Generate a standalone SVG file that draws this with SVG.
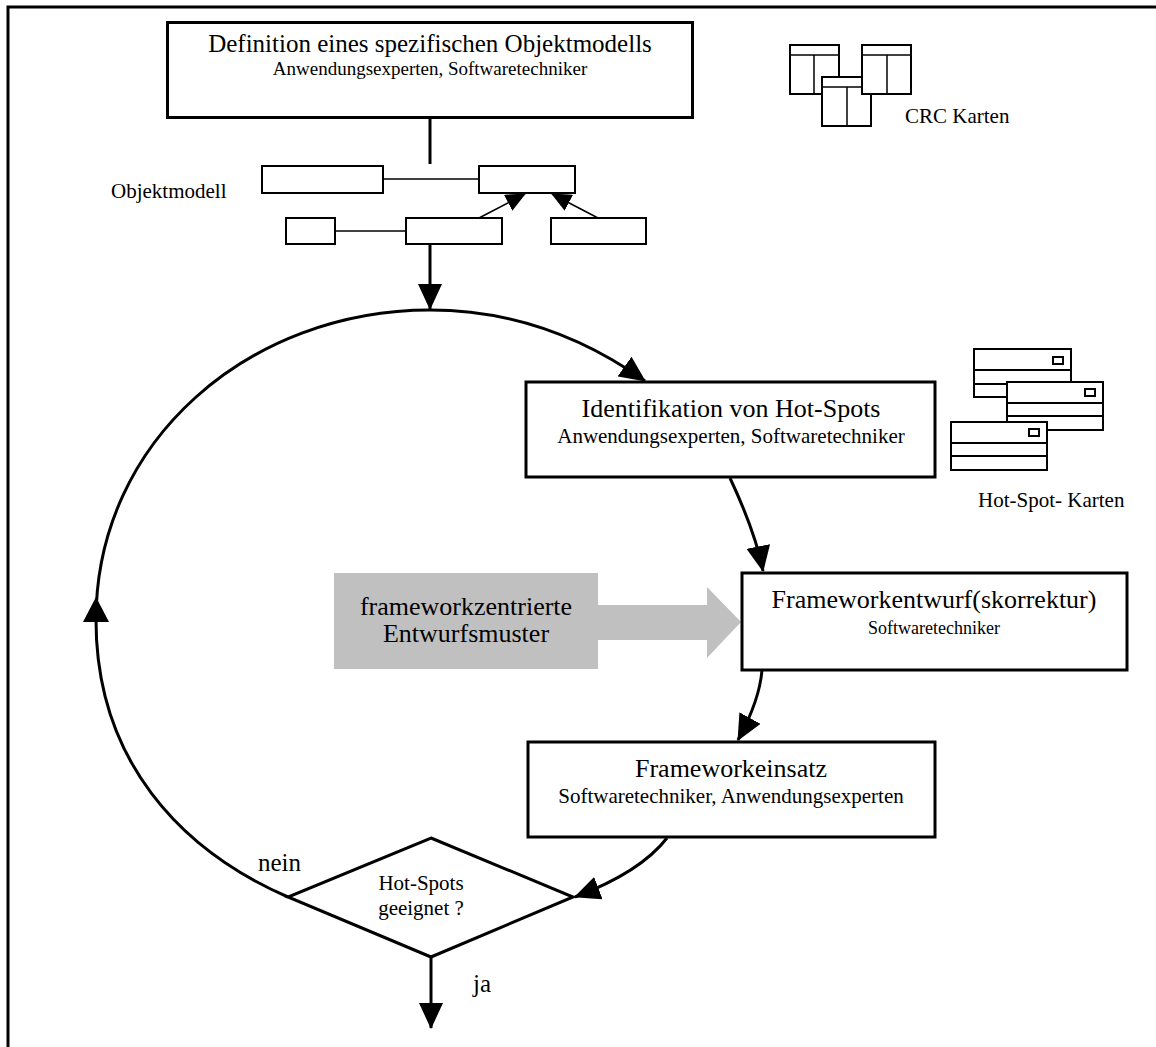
<svg xmlns="http://www.w3.org/2000/svg" width="1156" height="1047" viewBox="0 0 1156 1047">
  <style>
    text { font-family: "Liberation Serif", "Times New Roman", serif; fill: #000; }
    .box { fill: #fff; stroke: #000; stroke-width: 3; }
    .small { fill: #fff; stroke: #000; stroke-width: 2; }
    .thin { fill: none; stroke: #000; stroke-width: 1.5; }
    .flow { fill: none; stroke: #000; stroke-width: 3; }
    .title { font-size: 26px; text-anchor: middle; }
    .sub { font-size: 21px; text-anchor: middle; }
    .label { font-size: 21px; }
  </style>
  <defs>
    <marker id="head" markerUnits="userSpaceOnUse" markerWidth="26" markerHeight="24" viewBox="0 0 26 24" refX="25" refY="12" orient="auto">
      <path d="M0,0 L26,12 L0,24 z" fill="#000"/>
    </marker>
    <marker id="headSmall" markerUnits="userSpaceOnUse" markerWidth="20" markerHeight="18" viewBox="0 0 20 18" refX="19" refY="9" orient="auto">
      <path d="M0,0 L20,9 L0,18 z" fill="#000"/>
    </marker>
  </defs>

  <rect width="1156" height="1047" fill="#fff"/>
  <!-- page frame (open on right and bottom) -->
  <rect x="8" y="7" width="1170" height="1070" fill="none" stroke="#000" stroke-width="3"/>

  <!-- connectors -->
  <g id="connectors">
    <line class="flow" x1="430" y1="118" x2="430" y2="164"/>
    <line class="flow" x1="430" y1="244" x2="430" y2="309" marker-end="url(#head)"/>
    <!-- feedback loop from the decision back to hot-spot identification -->
    <path class="flow" d="M288 897 C180 850 96 760 96 620 C96 440 250 310 430 310 C510 310 580 335 645 381" marker-end="url(#head)"/>
    <polygon points="96,597 83,622 109,622" fill="#000"/>
    <path class="flow" d="M730 478 C745 510 757 540 763 571" marker-end="url(#head)"/>
    <path class="flow" d="M762 670 C760 695 750 718 738 740" marker-end="url(#head)"/>
    <path class="flow" d="M667 838 C650 860 620 880 575 897" marker-end="url(#head)"/>
    <line class="flow" x1="431" y1="957" x2="431" y2="1028" marker-end="url(#head)"/>
  </g>

  <!-- step 1 -->
  <g id="n-definition">
    <rect class="box" x="167.5" y="22.5" width="525" height="95"/>
    <text x="430" y="52" text-anchor="middle" font-size="25">Definition eines spezifischen Objektmodells</text>
    <text x="430" y="75" text-anchor="middle" font-size="19">Anwendungsexperten, Softwaretechniker</text>
  </g>

  <!-- CRC cards -->
  <g id="n-crc">
    <rect class="small" x="790" y="45" width="49" height="49"/>
    <line class="thin" x1="790" y1="55" x2="839" y2="55"/>
    <line class="thin" x1="814" y1="55" x2="814" y2="94"/>
    <rect class="small" x="822" y="77" width="49" height="49"/>
    <line class="thin" x1="822" y1="87" x2="871" y2="87"/>
    <line class="thin" x1="847" y1="87" x2="847" y2="126"/>
    <rect class="small" x="862" y="45" width="49" height="49"/>
    <line class="thin" x1="862" y1="55" x2="911" y2="55"/>
    <line class="thin" x1="887" y1="55" x2="887" y2="94"/>
    <text class="label" x="905" y="123">CRC Karten</text>
  </g>

  <!-- object model sketch -->
  <g id="n-objektmodell">
    <text class="label" x="111" y="198">Objektmodell</text>
    <line class="thin" x1="383" y1="179" x2="479" y2="179"/>
    <line class="thin" x1="335" y1="231" x2="406" y2="231"/>
    <rect class="small" x="262" y="166" width="121" height="27"/>
    <rect class="small" x="479" y="166" width="96" height="27"/>
    <rect class="small" x="286" y="218" width="49" height="26"/>
    <rect class="small" x="406" y="218" width="96" height="26"/>
    <rect class="small" x="551" y="218" width="95" height="26"/>
    <line class="thin" x1="479" y1="218" x2="525" y2="194" marker-end="url(#headSmall)"/>
    <line class="thin" x1="598" y1="218" x2="552" y2="194" marker-end="url(#headSmall)"/>
  </g>

  <!-- step 2 -->
  <g id="n-identifikation">
    <rect class="box" x="526" y="382" width="409" height="95"/>
    <text class="title" x="731" y="417">Identifikation von Hot-Spots</text>
    <text class="sub" x="731" y="443">Anwendungsexperten, Softwaretechniker</text>
  </g>

  <!-- hot-spot cards -->
  <g id="n-hotspot-karten">
    <rect class="small" x="974" y="349" width="97" height="48"/>
    <line class="small" x1="974" y1="370" x2="1071" y2="370"/>
    <line class="small" x1="974" y1="384" x2="1071" y2="384"/>
    <rect class="small" x="1053" y="357" width="10" height="7"/>
    <rect class="small" x="1007" y="382" width="96" height="48"/>
    <line class="small" x1="1007" y1="403" x2="1103" y2="403"/>
    <line class="small" x1="1007" y1="416" x2="1103" y2="416"/>
    <rect class="small" x="1085" y="389" width="10" height="7"/>
    <rect class="small" x="951" y="422" width="96" height="48"/>
    <line class="small" x1="951" y1="443" x2="1047" y2="443"/>
    <line class="small" x1="951" y1="456" x2="1047" y2="456"/>
    <rect class="small" x="1029" y="429" width="10" height="7"/>
    <text class="label" x="978" y="507">Hot-Spot- Karten</text>
  </g>

  <!-- design patterns input -->
  <g id="n-muster">
    <rect x="334" y="573" width="264" height="96" fill="#c0c0c0"/>
    <polygon points="598,605 707,605 707,587 741,622 707,658 707,640 598,640" fill="#c0c0c0"/>
    <text x="466" y="615" text-anchor="middle" font-size="26">frameworkzentrierte</text>
    <text x="466" y="642" text-anchor="middle" font-size="26">Entwurfsmuster</text>
  </g>

  <!-- step 3 -->
  <g id="n-entwurf">
    <rect class="box" x="742" y="573" width="385" height="97"/>
    <text class="title" x="934" y="608">Frameworkentwurf(skorrektur)</text>
    <text x="934" y="634" text-anchor="middle" font-size="18">Softwaretechniker</text>
  </g>

  <!-- step 4 -->
  <g id="n-einsatz">
    <rect class="box" x="528" y="742" width="407" height="95"/>
    <text class="title" x="731" y="777">Frameworkeinsatz</text>
    <text class="sub" x="731" y="803">Softwaretechniker, Anwendungsexperten</text>
  </g>

  <!-- decision -->
  <g id="n-entscheidung">
    <polygon class="box" points="431,838 573,897 431,957 288,897"/>
    <text class="sub" x="421" y="890">Hot-Spots</text>
    <text class="sub" x="421" y="915">geeignet ?</text>
    <text x="258" y="871" font-size="25">nein</text>
    <text x="473" y="992" font-size="25">ja</text>
  </g>
</svg>
